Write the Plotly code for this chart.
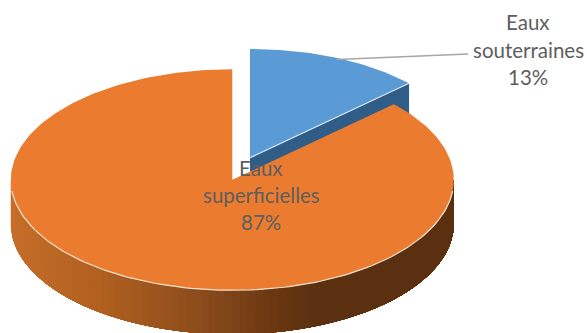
import numpy as np
import plotly.graph_objects as go

# Data
categories = ["Eaux souterraines", "Eaux superficielles"]
shares = [13, 87]
label_lines = [["Eaux", "souterraines", "13%"], ["Eaux", "superficielles", "87%"]]

# Styling
colors = ["#5B9BD5", "#EB7C2F"]
wall_blue = "#2F5D88"
side_stops_x = [11, 100, 200, 270, 310, 454]
side_stops_rgb = [(198, 110, 42), (176, 96, 32), (139, 75, 28), (107, 56, 18), (92, 49, 17), (90, 48, 16)]
text_color = "#5E5E5E"

cx, cy, rx, ry, depth = 232.3, 179.8, 221.5, 110.5, 44
blue_dx, blue_dy = 17.7, -22
blue_scale = 0.985

def pt(theta, ox=0.0, oy=0.0, s=1.0):
    theta = np.asarray(theta)
    return cx + ox + s * rx * np.sin(theta), cy + oy - s * ry * np.cos(theta)

split = 2 * np.pi * shares[0] / sum(shares)
fig = go.Figure()

def poly(x, y, fill):
    fig.add_trace(go.Scatter(x=list(x), y=list(y), mode="lines", fill="toself", fillcolor=fill,
                             line=dict(color=fill, width=0), hoverinfo="skip", showlegend=False))

# Blue wedge wall along the cut edge
ax, ay = cx + blue_dx, cy + blue_dy
ex, ey = pt(split, blue_dx, blue_dy, blue_scale)
poly([ax, ex, ex, ax], [ay, ey, ey + depth, ay + depth], wall_blue)

# Blue wedge top
t = np.linspace(0, split, 50)
bx, by = pt(t, blue_dx, blue_dy, blue_scale)
poly([ax, *bx, ax], [ay, *by, ay], colors[0])
fig.add_trace(go.Scatter(x=[ax, ex], y=[ay, ey], mode="lines", line=dict(color="#DCE8F3", width=1.2),
                         hoverinfo="skip", showlegend=False))

# Orange side with horizontal gradient: painted left to right, each band reaching the right end
edges = np.linspace(3 * np.pi / 2, np.pi / 2, 91)
for a in edges[:-1]:
    tt = np.linspace(a, np.pi / 2, 120)
    x, y = pt(tt)
    rgb = [int(np.interp(x[0], side_stops_x, [s[i] for s in side_stops_rgb])) for i in range(3)]
    poly([*x, *x[::-1]], [*y, *(y[::-1] + depth)], f"rgb({rgb[0]},{rgb[1]},{rgb[2]})")

# Orange top
t = np.linspace(split, 2 * np.pi, 240)
ox, oy = pt(t)
poly([cx, *ox, cx], [cy, *oy, cy], colors[1])

# Pale rim where the top meets the side
t = np.linspace(np.pi / 2 + 0.1, 3 * np.pi / 2 - 0.1, 120)
rx_, ry_ = pt(t)
fig.add_trace(go.Scatter(x=rx_, y=ry_, mode="lines", line=dict(color="#F6E3D2", width=1.2),
                         hoverinfo="skip", showlegend=False))

# Leader line from the middle of the blue arc to its label
lx, ly = pt(split / 2, blue_dx, blue_dy, blue_scale)
fig.add_trace(go.Scatter(x=[lx, 468], y=[ly + 1.5, 54], mode="lines", line=dict(color="#A6A6A6", width=1.5),
                         hoverinfo="skip", showlegend=False))

# Labels
label_pos = [(528, [22, 50, 77]), (261, [168, 195, 222])]
for lines, (x0, ys) in zip(label_lines, label_pos):
    for line, y0 in zip(lines, ys):
        fig.add_annotation(x=x0, y=y0, text=line, showarrow=False, xanchor="center", yanchor="middle",
                           font=dict(family="Lato", size=20.5, color=text_color))

fig.update_layout(width=587, height=333, autosize=False, margin=dict(l=0, r=0, t=0, b=0),
                  paper_bgcolor="white", plot_bgcolor="white", showlegend=False,
                  xaxis=dict(range=[0, 587], visible=False, fixedrange=True),
                  yaxis=dict(range=[333, 0], visible=False, fixedrange=True))
fig.write_html("out.html", config={"displayModeBar": False},
               post_script="document.body.style.margin='0';")
